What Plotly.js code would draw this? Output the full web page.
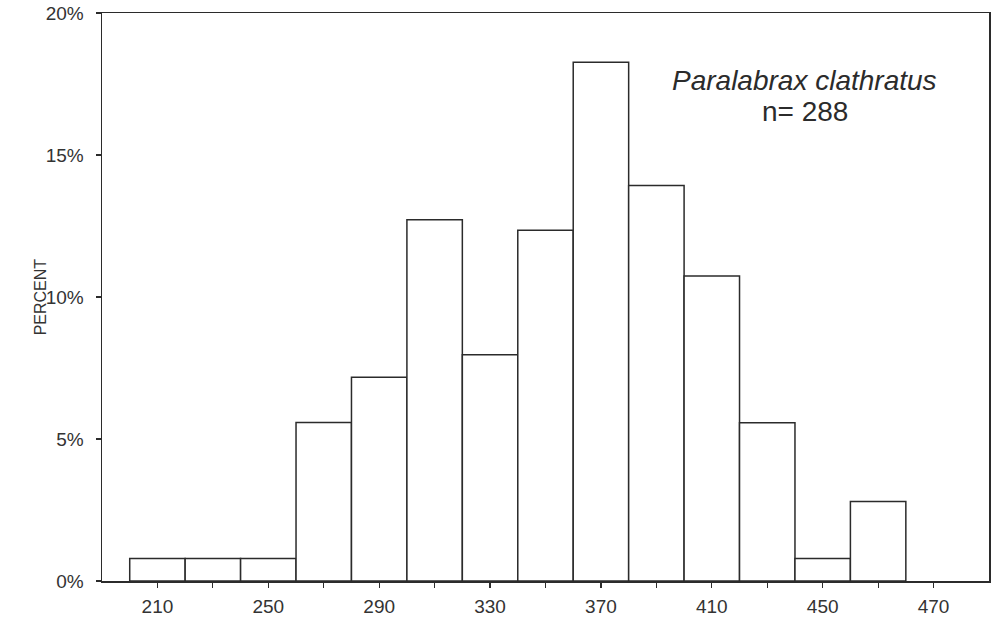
<!DOCTYPE html>
<html>
<head>
<meta charset="utf-8">
<script src="https://cdn.plot.ly/plotly-3.0.1.min.js"></script>
<style>
  html, body { margin: 0; padding: 0; background: #fff; }
  #chart { width: 992px; height: 620px; }
</style>
</head>
<body>
<div id="chart"></div>
<script>
// Length-frequency histogram, 20 mm bins
const binCenters = [210, 230, 250, 270, 290, 310, 330, 350, 370, 390, 410, 430, 450, 470];
const percentValues = [0.79, 0.79, 0.79, 5.58, 7.17, 12.72, 7.97, 12.35, 18.27, 13.93, 10.74, 5.57, 0.79, 2.80];
// Tick labels, one per tick slot (every other slot labelled)
const tickLabels = ["210", "", "250", "", "290", "", "330", "", "370", "", "410", "", "450", "", "470"];
const yAxisLabel = "PERCENT";
const speciesName = "Paralabrax clathratus";
const sampleSize = 288;

const binWidth = 20;
const tickPositions = tickLabels.map((_, i) => binCenters[0] + i * binWidth);

const ink = '#2b2b2b';
const textInk = '#333333';

const trace = {
  type: 'bar',
  x: binCenters,
  y: percentValues,
  width: binWidth,
  marker: { color: '#ffffff', line: { color: ink, width: 1.5 } },
  hoverinfo: 'x+y'
};

const layout = {
  width: 992,
  height: 620,
  margin: { l: 102, r: 3, t: 13, b: 39 },
  paper_bgcolor: '#ffffff',
  plot_bgcolor: '#ffffff',
  font: { family: 'Liberation Sans, Arial, sans-serif', size: 19, color: textInk },
  showlegend: false,
  bargap: 0,
  xaxis: {
    range: [binCenters[0] - binWidth, tickPositions[tickPositions.length - 1] + binWidth],
    tickmode: 'array',
    tickvals: tickPositions,
    ticktext: tickLabels,
    ticks: 'outside',
    ticklen: 5,
    tickwidth: 1.2,
    tickcolor: ink,
    ticklabelstandoff: 3,
    showgrid: false,
    zeroline: false,
    showline: true,
    linecolor: ink,
    linewidth: 1.5,
    mirror: true,
    tickfont: { size: 19 }
  },
  yaxis: {
    range: [0, 20],
    tickmode: 'linear',
    tick0: 0,
    dtick: 5,
    ticksuffix: '%',
    ticks: 'outside',
    ticklen: 5,
    tickwidth: 1.2,
    tickcolor: ink,
    ticklabelstandoff: 8,
    showgrid: false,
    zeroline: false,
    showline: true,
    linecolor: ink,
    linewidth: 1.5,
    mirror: true,
    tickfont: { size: 19 }
  },
  annotations: [
    {
      // vertical axis caption
      xref: 'paper', yref: 'paper',
      x: -0.0695, y: 0.5,
      xanchor: 'center', yanchor: 'middle',
      textangle: -90,
      text: yAxisLabel,
      showarrow: false,
      font: { size: 16, color: textInk }
    },
    {
      xref: 'paper', yref: 'paper',
      x: 0.792, y: 0.882,
      xanchor: 'center', yanchor: 'middle',
      text: '<i>' + speciesName + '</i>',
      showarrow: false,
      font: { size: 28, color: ink }
    },
    {
      xref: 'paper', yref: 'paper',
      x: 0.793, y: 0.826,
      xanchor: 'center', yanchor: 'middle',
      text: 'n= ' + sampleSize,
      showarrow: false,
      font: { size: 28, color: ink }
    }
  ]
};

Plotly.newPlot('chart', [trace], layout, { displayModeBar: false, staticPlot: true });
</script>
</body>
</html>
